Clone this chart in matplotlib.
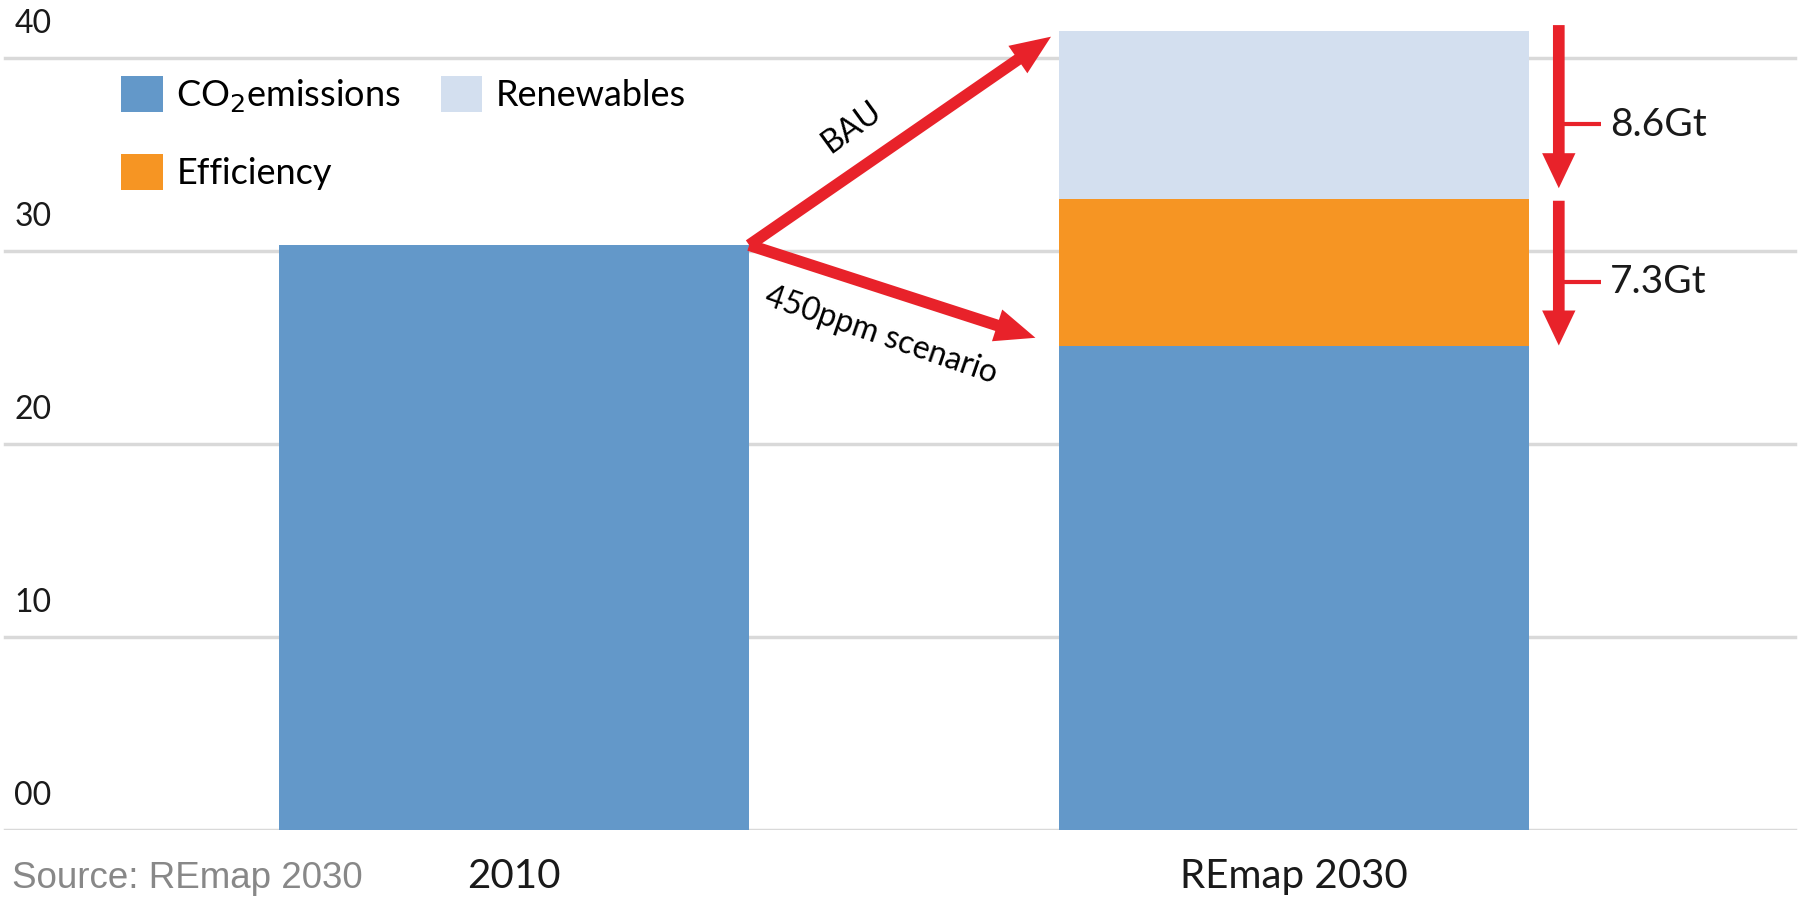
import matplotlib
matplotlib.use('Agg')
import matplotlib.pyplot as plt
import numpy as np

# data (Gt CO2)
categories = ['2010', 'REmap 2030']
co2 = [30.3, 25.1]
efficiency = [0, 7.6]
renewables = [0, 8.7]
savings_labels = ['8.6Gt', '7.3Gt']
ytick_vals = [0, 10, 20, 30, 40]
ytick_labels = ['00', '10', '20', '30', '40']

blue = '#6398c9'
orange = '#f69523'
light = '#d3dfef'
red = '#e8222a'
grid_col = '#d9d9d9'

plt.rcParams['font.family'] = ['Lato', 'DejaVu Sans']

fig = plt.figure(figsize=(18.08, 8.97), dpi=100)
ax = fig.add_axes([0, 67 / 897, 1, 830 / 897])

x = np.arange(len(categories))
width = 0.603

for v, lab in zip(ytick_vals, ytick_labels):
    ax.axhline(v, xmin=0.003, xmax=0.993, color=grid_col, lw=2.5, zorder=0)
    ax.text(0.008, v + 1.0, lab, transform=ax.get_yaxis_transform(),
            fontsize=23, color='#1a1a1a', va='bottom', ha='left')

b1 = ax.bar(x, co2, width, color=blue, zorder=2)
b2 = ax.bar(x, efficiency, width, bottom=co2, color=orange, zorder=2)
bot2 = [c + e for c, e in zip(co2, efficiency)]
b3 = ax.bar(x, renewables, width, bottom=bot2, color=light, zorder=2)

ax.set_xlim(-0.659, 1.659)
ax.set_ylim(0, 43)
for s in ax.spines.values():
    s.set_visible(False)
ax.set_yticks([])
ax.set_xticks(x)
ax.set_xticklabels(categories, fontsize=29, color='#1a1a1a')
ax.tick_params(axis='x', length=0, pad=20)

leg = ax.legend([b1, b2, b3], ['CO$_2$emissions', 'Efficiency', 'Renewables'], ncol=2,
                loc='upper left', bbox_to_anchor=(121 / 1808, 1 - 76 / 897),
                bbox_transform=fig.transFigure, frameon=False, fontsize=26,
                handlelength=1.15, handleheight=1.15, handletextpad=0.38,
                columnspacing=1.1, labelspacing=1.1, borderpad=0, borderaxespad=0)

# scenario arrows from the top of the 2010 bar
start = (x[0] + width / 2, co2[0])
total = bot2[1] + renewables[1]
arrow = dict(arrowstyle='simple,head_length=1.45,head_width=1.2,tail_width=0.42', lw=0, color=red,
             mutation_scale=20, shrinkA=0, shrinkB=0)
ax.annotate('', xy=(x[1] - width / 2 - 0.01, total - 0.3), xytext=start, arrowprops=arrow, zorder=5)
ax.annotate('', xy=(x[1] - width / 2 - 0.03, co2[1] + 0.4), xytext=start, arrowprops=arrow, zorder=5)
ax.text(0.432, 36.4, 'BAU', rotation=36, fontsize=23, ha='center', va='center', rotation_mode='anchor')
ax.text(0.47, 25.6, '450ppm scenario', rotation=-19, fontsize=23, ha='center', va='center',
        rotation_mode='anchor')

# savings arrows on the right
xr = x[1] + width / 2 + 0.038
seg_lo = [bot2[1], co2[1]]
seg_hi = [total, bot2[1]]
arrow_ends = [(0.55, 0.3), (0.0, -0.1)]
down = dict(arrowstyle='simple,head_length=1.26,head_width=1.2,tail_width=0.42', lw=0, color=red,
            mutation_scale=20, shrinkA=0, shrinkB=0)
for lo, hi, lab, (dlo, dhi) in zip(seg_lo, seg_hi, savings_labels, arrow_ends):
    ax.annotate('', xy=(xr, lo + dlo), xytext=(xr, hi + dhi), arrowprops=down)
    mid = (lo + hi) / 2 - 0.5
    ax.plot([xr, xr + 0.054], [mid, mid], color=red, lw=3, solid_capstyle='butt')
    ax.text(xr + 0.066, mid, lab, fontsize=28, va='center', ha='left', color='#1a1a1a')

fig.text(12 / 1808, 9 / 897, 'Source: REmap 2030', fontsize=26.5, color='#888888',
         family='Liberation Sans', va='baseline', ha='left')

fig.savefig('out.png', dpi=100)
